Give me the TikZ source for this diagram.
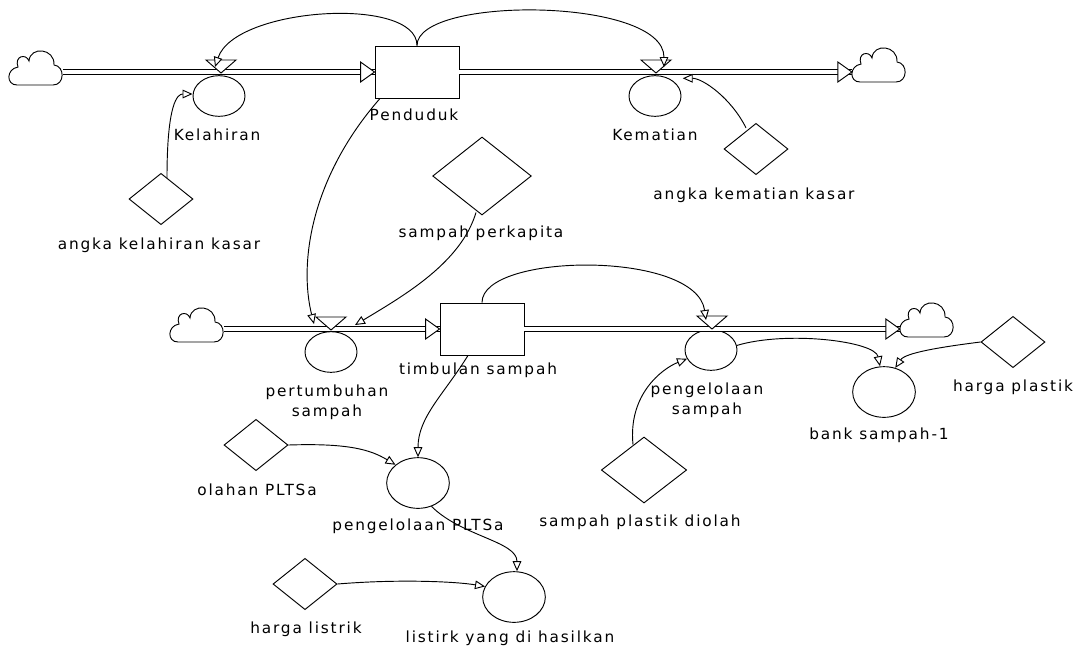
\documentclass[tikz,border=0pt]{standalone}
\usepackage{fontspec}
\setmainfont{DejaVu Sans}[LetterSpace=12]
\usetikzlibrary{shapes.geometric,arrows.meta}

\tikzset{
  stock/.style={draw,rectangle,inner sep=0,minimum width=63pt,minimum height=39pt},
  valve/.style={draw,ellipse,inner sep=0,minimum width=39pt,minimum height=30.5pt},
  aux/.style={draw,ellipse,inner sep=0,minimum width=47pt,minimum height=38pt},
  const/.style={draw,diamond,inner sep=0,minimum width=48pt,minimum height=38.5pt},
  sky/.style={rectangle,inner sep=0,minimum width=40pt,minimum height=27pt},
  pipe/.style={double,double distance=2.6pt},
  link/.style={-{Triangle[length=7.5pt,width=6.5pt,fill=white]}},
  lbl/.style={inner sep=0,align=center}
}
\newcommand{\pipetip}[1]{\draw[fill=white] ([shift={(-14,-10)}]#1) -- (#1) -- ([shift={(-14,10)}]#1) -- cycle;}
\newcommand{\valvetop}[1]{\draw[fill=white] ([shift={(-15,-13)}]#1) -- ([shift={(15,-13)}]#1) -- (#1) -- cycle;}
\newcommand{\skyshape}[1]{\draw[fill=white] ([shift={(-19,16)}]#1.center) -- ([shift={(17,16)}]#1.center)
  .. controls ([shift={(29,16)}]#1.center) and ([shift={(29,-3)}]#1.center) .. ([shift={(18,-4)}]#1.center)
  .. controls ([shift={(19,-21)}]#1.center) and ([shift={(-6,-23)}]#1.center) .. ([shift={(-7,-8)}]#1.center)
  .. controls ([shift={(-10,-16)}]#1.center) and ([shift={(-22,-13)}]#1.center) .. ([shift={(-18,-2)}]#1.center)
  .. controls ([shift={(-30,0)}]#1.center) and ([shift={(-30,16)}]#1.center) .. ([shift={(-19,16)}]#1.center);}

\begin{document}
\begin{tikzpicture}[x=0.75pt,y=-0.75pt,line width=.7pt,font=\fontsize{11.5}{15}\selectfont]
\useasboundingbox (0,0) rectangle (1088,651);

\node[stock] (pend) at (417,72) {};
\node[stock] (timb) at (482,329) {};
\node[sky] (cl1) at (36,69) {};
\node[sky] (cl2) at (879,66) {};
\node[sky] (cl3) at (197,326) {};
\node[sky] (cl4) at (927,321) {};
\node[valve] (kel) at (219,96) {};
\node[valve] (kem) at (655,96) {};
\node[valve] (pert) at (331,352) {};
\node[valve] (peng) at (711,350) {};
\node[aux] (bank) at (884,392) {};
\node[aux] (pltsa) at (418,483) {};
\node[aux] (listrik) at (514,597) {};
\node[const] (akl) at (161,199) {};
\node[const] (akk) at (756,149) {};
\node[const,minimum width=74pt,minimum height=58.5pt] (sperk) at (482,176) {};
\node[const] (olahan) at (256,445) {};
\node[const] (hl) at (305,584) {};
\node[const] (hp) at (1013,342) {};
\node[const,minimum width=64pt,minimum height=49.5pt] (spd) at (644,470) {};

\node[lbl] (pendL) at (414,115) {Penduduk};
\node[lbl] (kelL) at (217,135) {Kelahiran};
\node[lbl] (kemL) at (655,135) {Kematian};
\node[lbl] (aklL) at (159,245) {angka kelahiran kasar};
\node[lbl] (akkL) at (754,195) {angka kematian kasar};
\node[lbl] (sperkL) at (481,233) {sampah perkapita};
\node[lbl] (pertL) at (327,402) {pertumbuhan\\sampah};
\node[lbl] (timbL) at (478,370) {timbulan sampah};
\node[lbl] (pengL) at (707,400) {pengelolaan\\sampah};
\node[lbl] (bankL) at (879,435) {bank sampah-1};
\node[lbl] (hpL) at (1013,387) {harga plastik};
\node[lbl] (spdL) at (640,522) {sampah plastik diolah};
\node[lbl] (olahanL) at (257,490) {olahan PLTSa};
\node[lbl] (pltsaL) at (418,526) {pengelolaan PLTSa};
\node[lbl] (hlL) at (306,629) {harga listrik};
\node[lbl] (listrikL) at (510,638) {listirk yang di hasilkan};

\coordinate (in1) at (cl1.east |- pend.west);
\coordinate (out1) at (cl2.west |- pend.east);
\coordinate (in2) at (cl3.east |- timb.west);
\coordinate (out2) at (cl4.west |- timb.east);
\draw[pipe] (in1) -- (pend.west);
\draw[pipe] (pend.east) -- (out1);
\draw[pipe] (in2) -- (timb.west);
\draw[pipe] (timb.east) -- (out2);
\skyshape{cl1}
\skyshape{cl2}
\skyshape{cl3}
\skyshape{cl4}
\pipetip{pend.west}
\pipetip{out1}
\pipetip{timb.west}
\pipetip{out2}

\coordinate (kelv) at (221,73);
\coordinate (kemv) at (656,73);
\coordinate (pertv) at (331,330);
\coordinate (pengv) at (712,329);
\valvetop{kelv}
\valvetop{kemv}
\valvetop{pertv}
\valvetop{pengv}

\draw[link] (pend.north) .. controls +(0,-50) and +(20,-60) .. ([shift={(-6,-6)}]kelv);
\draw[link] (pend.north) .. controls +(0,-50) and +(0,-70) .. ([shift={(8,-6)}]kemv);
\draw[link] ([shift={(6,5)}]akl.north) .. controls +(0,-75) and +(-15,0) .. ([shift={(0,-2)}]kel.west);
\draw[link] ([shift={(-10,5)}]akk.north) .. controls +(-15,-30) and +(20,0) .. ([shift={(9,-3)}]kem.north east);
\draw[link] ([shift={(-37,0)}]pend.south) .. controls +(-70,80) and +(-15,-60) .. ([shift={(-17,-6)}]pertv);
\draw[link] ([shift={(-6,-3)}]sperk.south) .. controls +(-15,50) and +(50,-30) .. ([shift={(24,-5)}]pertv);
\draw[link] (timb.north) .. controls +(0,-50) and +(-10,-70) .. ([shift={(-6,-9)}]pengv);
\draw[link] ([shift={(-14,0)}]timb.south) .. controls +(-25,40) and +(0,-40) .. (pltsa.north);
\draw[link] (olahan.east) .. controls +(60,-2) and +(-25,-15) .. (pltsa.north west);
\draw[link] (pltsa.-60) .. controls +(30,30) and +(0,-30) .. ([shift={(3,0)}]listrik.north);
\draw[link] (hl.east) .. controls +(60,-5) and +(-30,-5) .. (listrik.160);
\draw[link] ([shift={(-11,8)}]spd.north) .. controls +(-5,-50) and +(-25,10) .. (peng.200);
\draw[link] (peng.10) .. controls +(50,-15) and +(-5,-25) .. ([shift={(-4,0)}]bank.north);
\draw[link] (hp.west) .. controls +(-40,5) and +(10,-15) .. (bank.65);
\end{tikzpicture}
\end{document}
